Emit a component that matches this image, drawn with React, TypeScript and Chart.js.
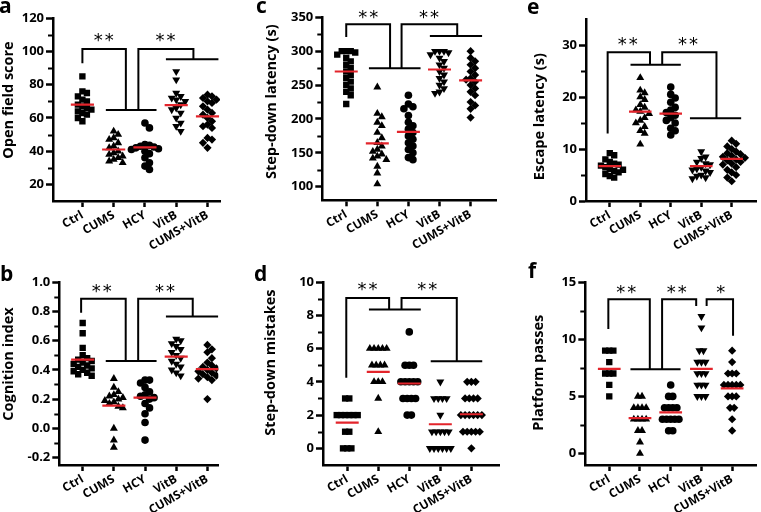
import React, { useEffect, useRef } from 'react';
import { Chart, registerables } from 'chart.js';
Chart.register(...registerables);

const categories = ['Ctrl', 'CUMS', 'HCY', 'VitB', 'CUMS+VitB'];

// a: Open field score
const openCtrl = [85, 76, 75, 73, 71, 70, 68, 67, 66, 65, 64, 63, 62, 60, 58];
const openCums = [52, 50, 48, 47, 45, 43, 42, 40, 39, 38, 37, 36, 35, 34, 33];
const openHcy = [57, 54, 44, 43.5, 43, 42.5, 42, 41.5, 41, 40, 38.5, 36, 33, 31, 29];
const openVitb = [88, 83, 75, 73, 72, 71, 70, 68, 66, 65, 63, 60, 57, 55, 52];
const openCumsVitb = [74, 73, 72, 71, 70, 69, 67, 65, 63, 62, 60, 58, 56, 55, 54, 48, 47, 45, 42];
const openMeans = [68, 41, 42.3, 67.7, 61];

// b: Cognition index
const cogCtrl = [0.72, 0.65, 0.55, 0.5, 0.48, 0.47, 0.46, 0.45, 0.44, 0.43, 0.42, 0.41, 0.4, 0.39, 0.38, 0.37, 0.36];
const cogCums = [0.34, 0.28, 0.25, 0.23, 0.22, 0.21, 0.2, 0.19, 0.18, 0.17, 0.15, 0.14, 0.0, -0.08, -0.13];
const cogHcy = [0.33, 0.33, 0.31, 0.28, 0.25, 0.23, 0.22, 0.21, 0.2, 0.17, 0.14, 0.1, 0.04, -0.08];
const cogVitb = [0.61, 0.6, 0.58, 0.56, 0.54, 0.52, 0.5, 0.48, 0.46, 0.44, 0.42, 0.4, 0.38, 0.36];
const cogCumsVitb = [0.57, 0.54, 0.52, 0.48, 0.45, 0.43, 0.42, 0.41, 0.4, 0.39, 0.38, 0.37, 0.36, 0.35, 0.34, 0.33, 0.2];
const cogMeans = [0.47, 0.155, 0.21, 0.49, 0.405];

// c: Step-down latency (s)
const latCtrl = [300, 300, 300, 298, 295, 290, 285, 280, 275, 270, 265, 260, 255, 250, 245, 240, 235, 222];
const latCums = [247, 208, 203, 195, 190, 180, 172, 165, 160, 155, 152, 148, 145, 142, 140, 130, 120, 104];
const latHcy = [235, 222, 218, 215, 205, 195, 190, 185, 180, 175, 170, 165, 160, 155, 150, 143, 140];
const latVitb = [300, 300, 300, 298, 295, 290, 285, 280, 275, 270, 265, 260, 255, 250, 245, 240, 238];
const latCumsVitb = [300, 290, 285, 280, 275, 270, 265, 260, 258, 255, 250, 245, 240, 235, 225, 220, 215, 202];
const latMeans = [270, 164, 181, 273, 257];

// d: Step-down mistakes
const misCtrl = [3, 3, 2, 2, 2, 2, 2, 2, 1, 1, 0, 0, 0];
const misCums = [6, 6, 6, 6, 6, 5, 5, 5, 5, 4, 4, 4, 3, 1];
const misHcy = [7, 5, 5, 5, 4, 4, 4, 4, 4, 3, 3, 3, 3, 2, 2];
const misVitb = [4, 3, 3, 3, 3, 2, 1, 1, 1, 1, 1, 0, 0, 0, 0, 0, 0];
const misCumsVitb = [4, 4, 4, 3, 3, 3, 3, 2, 2, 2, 2, 2, 2, 1, 1, 1, 1, 1, 0];
const misMeans = [1.55, 4.6, 3.9, 1.45, 2.05];

// e: Escape latency (s)
const escCtrl = [9.2, 8.8, 8.0, 7.5, 7.2, 7.0, 6.8, 6.5, 6.2, 6.0, 5.8, 5.5, 5.2, 4.8, 4.5];
const escCums = [23.7, 21.3, 20.8, 20.0, 19.5, 18.5, 18.0, 17.5, 17.2, 16.8, 16.0, 15.5, 15.0, 14.3, 13.5, 13.0, 10.9];
const escHcy = [21.9, 20.5, 19.8, 19.0, 18.0, 17.5, 17.0, 16.5, 16.0, 15.5, 15.0, 14.0, 13.5, 12.7];
const escVitb = [9.5, 8.5, 8.2, 7.5, 7.2, 7.0, 6.5, 6.2, 6.0, 5.8, 5.5, 5.0, 4.8, 4.5, 4.3];
const escCumsVitb = [11.6, 11.0, 10.5, 10.0, 9.5, 9.2, 9.0, 8.7, 8.5, 8.3, 8.0, 7.8, 7.5, 7.2, 7.0, 6.5, 6.0, 5.5, 5.0, 4.5, 3.8];
const escMeans = [6.7, 17.2, 16.8, 6.7, 8.1];

// f: Platform passes
const pasCtrl = [9, 9, 9, 8, 7, 7, 7, 6, 5];
const pasCums = [5, 5, 4, 4, 4, 4, 3, 3, 3, 3, 2, 2, 1, 0];
const pasHcy = [6, 5, 5, 4, 4, 4, 4, 3, 3, 3, 3, 3, 2, 2];
const pasVitb = [12, 11, 9, 9, 8, 8, 8, 7, 7, 7, 6, 6, 6, 5, 5, 5];
const pasCumsVitb = [9, 8, 7, 7, 7, 6, 6, 6, 6, 6, 5, 5, 5, 4, 4, 3, 2];
const pasMeans = [7.4, 3.1, 3.6, 7.4, 5.7];

const RED = '#e3242b';
const FONT = '"Open Sans", "Liberation Sans", sans-serif';

const markerStyles = [
  { style: 'rect', r: 4.5, rot: 0 },
  { style: 'triangle', r: 4.6, rot: 0 },
  { style: 'circle', r: 3.8, rot: 0 },
  { style: 'triangle', r: 4.6, rot: 180 },
  { style: 'rectRot', r: 4.1, rot: 0 },
];

type Panel = {
  letter: string; title: string;
  pos: { x: number; y: number; w: number; h: number };
  area: { left: number; right: number; top: number; bottom: number };
  groups: number[][]; means: number[]; discrete: boolean;
  yMin: number; yMax: number; yMajor: number[]; yMinor: number[]; fmt: (v: number) => string;
  xMin: number; xMax: number;
  brackets: number[][][];
  stars: { x: number; y: number; n: number }[];
  letterAt: [number, number]; titleAt: [number, number];
};

const intFmt = (v: number) => String(Math.round(v));

const panels: Panel[] = [
  {
    letter: 'a', title: 'Open field score',
    pos: { x: 0, y: 0, w: 254, h: 256 },
    area: { left: 53, right: 220, top: 18.3, bottom: 201 },
    groups: [openCtrl, openCums, openHcy, openVitb, openCumsVitb], means: openMeans, discrete: false,
    yMin: 10, yMax: 120, yMajor: [20, 40, 60, 80, 100, 120], yMinor: [30, 50, 70, 90, 110], fmt: intFmt,
    xMin: 0.06, xMax: 5.4,
    brackets: [
      [[1, 92.9], [1, 101.5], [2.39, 101.5], [2.39, 64.8]],
      [[1.75, 64.8], [3.37, 64.8]],
      [[2.79, 64.8], [2.79, 101.5], [4.55, 101.5], [4.55, 95.3]],
      [[3.67, 95.3], [5.35, 95.3]],
    ],
    stars: [{ x: 1.68, y: 108.4, n: 2 }, { x: 3.66, y: 108.4, n: 2 }],
    letterAt: [-1, 13], titleAt: [9, 100],
  },
  {
    letter: 'c', title: 'Step-down latency (s)',
    pos: { x: 254, y: 0, w: 253, h: 256 },
    area: { left: 68.3, right: 242.7, top: 17.3, bottom: 200.3 },
    groups: [latCtrl, latCums, latHcy, latVitb, latCumsVitb], means: latMeans, discrete: false,
    yMin: 80, yMax: 350, yMajor: [100, 150, 200, 250, 300, 350], yMinor: [125, 175, 225, 275, 325], fmt: intFmt,
    xMin: 0.23, xMax: 5.84,
    brackets: [
      [[1, 320.8], [1, 339.6], [2.41, 339.6], [2.41, 274.7]],
      [[1.73, 274.7], [3.39, 274.7]],
      [[2.78, 274.7], [2.78, 339.6], [4.57, 339.6], [4.57, 322.3]],
      [[3.69, 322.3], [5.37, 322.3]],
    ],
    stars: [{ x: 1.71, y: 353.6, n: 2 }, { x: 3.66, y: 353.6, n: 2 }],
    letterAt: [2, 13], titleAt: [17.5, 101.7],
  },
  {
    letter: 'e', title: 'Escape latency (s)',
    pos: { x: 507, y: 0, w: 254, h: 256 },
    area: { left: 79, right: 253, top: 19, bottom: 201 },
    groups: [escCtrl, escCums, escHcy, escVitb, escCumsVitb], means: escMeans, discrete: false,
    yMin: 0, yMax: 35, yMajor: [0, 10, 20, 30], yMinor: [5, 15, 25], fmt: intFmt,
    xMin: 0.22, xMax: 5.81,
    brackets: [
      [[0.93, 13.0], [0.93, 28.6], [2.32, 28.6], [2.32, 26.2]],
      [[1.68, 26.2], [3.33, 26.2]],
      [[2.72, 26.2], [2.72, 28.6], [4.5, 28.6], [4.5, 15.9]],
      [[3.63, 15.9], [5.31, 15.9]],
    ],
    stars: [{ x: 1.59, y: 30.6, n: 2 }, { x: 3.57, y: 30.6, n: 2 }],
    letterAt: [20, 14], titleAt: [32.5, 116.7],
  },
  {
    letter: 'b', title: 'Cognition index',
    pos: { x: 0, y: 256, w: 254, h: 256 },
    area: { left: 59.3, right: 218.3, top: 26, bottom: 209 },
    groups: [cogCtrl, cogCums, cogHcy, cogVitb, cogCumsVitb], means: cogMeans, discrete: false,
    yMin: -0.25, yMax: 1.0, yMajor: [-0.2, 0, 0.2, 0.4, 0.6, 0.8, 1.0],
    yMinor: [-0.1, 0.1, 0.3, 0.5, 0.7, 0.9], fmt: (v) => v.toFixed(1),
    xMin: 0.25, xMax: 5.35,
    brackets: [
      [[0.95, 0.79], [0.95, 0.885], [2.38, 0.885], [2.38, 0.46]],
      [[1.74, 0.46], [3.37, 0.46]],
      [[2.78, 0.46], [2.78, 0.885], [4.53, 0.885], [4.53, 0.765]],
      [[3.67, 0.765], [5.35, 0.765]],
    ],
    stars: [{ x: 1.61, y: 0.957, n: 2 }, { x: 3.64, y: 0.957, n: 2 }],
    letterAt: [0, 25], titleAt: [8.5, 108],
  },
  {
    letter: 'd', title: 'Step-down mistakes',
    pos: { x: 254, y: 256, w: 253, h: 256 },
    area: { left: 69, right: 245, top: 26, bottom: 209 },
    groups: [misCtrl, misCums, misHcy, misVitb, misCumsVitb], means: misMeans, discrete: true,
    yMin: -1, yMax: 10, yMajor: [0, 2, 4, 6, 8, 10], yMinor: [1, 3, 5, 7, 9], fmt: intFmt,
    xMin: 0.22, xMax: 5.89,
    brackets: [
      [[0.97, 4.24], [0.97, 9.04], [2.35, 9.04], [2.35, 8.34]],
      [[1.7, 8.34], [3.37, 8.34]],
      [[2.75, 8.34], [2.75, 9.04], [4.53, 9.04], [4.53, 5.24]],
      [[3.69, 5.24], [5.35, 5.24]],
    ],
    stars: [{ x: 1.65, y: 9.72, n: 2 }, { x: 3.58, y: 9.72, n: 2 }],
    letterAt: [0, 25], titleAt: [16.5, 106.7],
  },
  {
    letter: 'f', title: 'Platform passes',
    pos: { x: 507, y: 256, w: 254, h: 256 },
    area: { left: 78.3, right: 253, top: 26, bottom: 209 },
    groups: [pasCtrl, pasCums, pasHcy, pasVitb, pasCumsVitb], means: pasMeans, discrete: true,
    yMin: -1, yMax: 15, yMajor: [0, 5, 10, 15], yMinor: [2.5, 7.5, 12.5], fmt: intFmt,
    xMin: 0.22, xMax: 5.79,
    brackets: [
      [[0.97, 10.9], [0.97, 13.5], [2.32, 13.5], [2.32, 7.38]],
      [[1.69, 7.38], [3.32, 7.38]],
      [[2.72, 7.38], [2.72, 13.5], [3.83, 13.5], [3.83, 12.9]],
      [[4.17, 12.9], [4.17, 13.5], [5.03, 13.5], [5.03, 10.3]],
    ],
    stars: [{ x: 1.55, y: 14.36, n: 2 }, { x: 3.2, y: 14.36, n: 2 }, { x: 4.63, y: 14.36, n: 1 }],
    letterAt: [21, 22], titleAt: [31.5, 116.7],
  },
];

// Horizontal spreading of points (scatter dot plot layout)
function spread(vals: number[], center: number, pxPerX: number, pxPerY: number, discrete: boolean) {
  const out: { x: number; y: number }[] = [];
  if (discrete) {
    const rows = new Map<number, number>();
    vals.forEach((v) => rows.set(v, (rows.get(v) || 0) + 1));
    const step = 4.2;
    rows.forEach((n, v) => {
      for (let j = 0; j < n; j++) out.push({ x: center + ((j - (n - 1) / 2) * step) / pxPerX, y: v });
    });
    return out;
  }
  const step = 4.5, minDy = 6.5;
  const placed: { px: number; py: number }[] = [];
  const order = vals.map((_, i) => i).sort((i, j) => vals[j] - vals[i]);
  for (const i of order) {
    const py = vals[i] * pxPerY;
    let chosen = 0;
    for (let k = 0; k < 60; k++) {
      const off = k === 0 ? 0 : (k % 2 ? 1 : -1) * Math.ceil(k / 2) * step;
      if (!placed.some((p) => Math.abs(p.px - off) < step * 0.95 && Math.abs(p.py - py) < minDy)) { chosen = off; break; }
    }
    placed.push({ px: chosen, py });
    out.push({ x: center + chosen / pxPerX, y: vals[i] });
  }
  return out;
}

function PanelChart({ p }: { p: Panel }) {
  const ref = useRef<HTMLCanvasElement>(null);
  useEffect(() => {
    const W = p.pos.w, H = p.pos.h;
    const pxPerX = (p.area.right - p.area.left) / (p.xMax - p.xMin);
    const pxPerY = (p.area.bottom - p.area.top) / (p.yMax - p.yMin);
    const groupSets = p.groups.map((vals, gi) => ({
      label: categories[gi],
      data: spread(vals, gi + 1, pxPerX, pxPerY, p.discrete),
      pointStyle: markerStyles[gi].style as any,
      pointRadius: markerStyles[gi].r,
      pointRotation: markerStyles[gi].rot,
      backgroundColor: '#000', borderColor: '#000', borderWidth: 0, showLine: false,
    }));
    const meanData: any[] = [];
    p.means.forEach((m, i) => {
      meanData.push({ x: i + 1 - 0.37, y: m }, { x: i + 1 + 0.37, y: m }, { x: i + 1.5, y: null });
    });
    const bracketData: any[] = [];
    p.brackets.forEach((poly) => {
      poly.forEach(([x, y]) => bracketData.push({ x, y }));
      bracketData.push({ x: poly[poly.length - 1][0], y: null });
    });

    const annot = {
      id: 'annot' + p.letter,
      afterDraw(chart: any) {
        const ctx = chart.ctx as CanvasRenderingContext2D;
        const xs = chart.scales.x, ys = chart.scales.y;
        const left = chart.chartArea.left;
        ctx.save();
        ctx.strokeStyle = '#000';
        ctx.lineWidth = 2;
        for (const v of p.yMinor) {
          const y = Math.round(ys.getPixelForValue(v)) + 0.5;
          ctx.beginPath(); ctx.moveTo(left - 1, y); ctx.lineTo(left - 5, y); ctx.stroke();
        }
        ctx.fillStyle = '#000';
        ctx.font = '18px "DejaVu Sans"';
        ctx.textAlign = 'center';
        ctx.textBaseline = 'alphabetic';
        const m = ctx.measureText('*');
        const shift = (m.actualBoundingBoxAscent - m.actualBoundingBoxDescent) / 2;
        for (const s of p.stars) {
          const cx = xs.getPixelForValue(s.x), cy = ys.getPixelForValue(s.y);
          for (let k = 0; k < s.n; k++) ctx.fillText('*', cx + (k - (s.n - 1) / 2) * 11, cy + shift);
        }
        ctx.font = `bold 21px ${FONT}`;
        ctx.textAlign = 'left';
        ctx.fillText(p.letter, p.letterAt[0], p.letterAt[1]);
        ctx.translate(p.titleAt[0], p.titleAt[1]);
        ctx.rotate(-Math.PI / 2);
        ctx.font = `bold 14.5px ${FONT}`;
        ctx.textAlign = 'center';
        ctx.textBaseline = 'middle';
        ctx.fillText(p.title, 0, 0);
        ctx.restore();
      },
    };

    const axisGrid = (len: number) => ({
      display: true, drawOnChartArea: false, drawTicks: true, tickLength: len, tickWidth: 2.5, tickColor: '#000',
    });
    const border = { display: true, color: '#000', width: 2.5 };

    const chart = new Chart(ref.current!, {
      type: 'scatter',
      data: {
        datasets: [
          { data: meanData, showLine: true, borderColor: RED, borderWidth: 2.2, pointRadius: 0, spanGaps: false } as any,
          ...groupSets,
          { data: bracketData, showLine: true, borderColor: '#000', borderWidth: 2, pointRadius: 0, spanGaps: false,
            borderJoinStyle: 'miter', borderCapStyle: 'butt' } as any,
        ],
      },
      options: {
        responsive: false,
        animation: false,
        events: [],
        layout: { padding: { left: 0, top: p.area.top, right: W - p.area.right, bottom: 0 } },
        plugins: { legend: { display: false }, tooltip: { enabled: false } },
        scales: {
          x: {
            type: 'linear', min: p.xMin, max: p.xMax,
            afterBuildTicks: (s: any) => { s.ticks = [1, 2, 3, 4, 5].map((v) => ({ value: v })); },
            afterFit: (s: any) => { s.height = H - p.area.bottom; },
            ticks: {
              autoSkip: false, minRotation: 30, maxRotation: 30, padding: 1, color: '#000',
              font: { family: FONT, size: 12, weight: 'bold' },
              callback: (v: any) => categories[Number(v) - 1] ?? '',
            },
            grid: axisGrid(6) as any,
            border,
          },
          y: {
            type: 'linear', min: p.yMin, max: p.yMax,
            afterBuildTicks: (s: any) => { s.ticks = p.yMajor.map((v) => ({ value: v })); },
            afterFit: (s: any) => { s.width = p.area.left; },
            ticks: {
              padding: 2, color: '#000',
              font: { family: FONT, size: 13, weight: 'bold' },
              callback: (v: any) => p.fmt(Number(v)),
            },
            grid: axisGrid(7) as any,
            border,
          },
        },
      },
      plugins: [annot],
    });
    return () => chart.destroy();
  }, [p]);
  return (
    <canvas
      ref={ref}
      width={p.pos.w}
      height={p.pos.h}
      style={{ position: 'absolute', left: p.pos.x, top: p.pos.y, width: p.pos.w, height: p.pos.h }}
    />
  );
}

export default function App() {
  return (
    <div style={{ position: 'fixed', left: 0, top: 0, width: 761, height: 512, background: '#fff', overflow: 'hidden' }}>
      {panels.map((p) => <PanelChart key={p.letter} p={p} />)}
    </div>
  );
}
